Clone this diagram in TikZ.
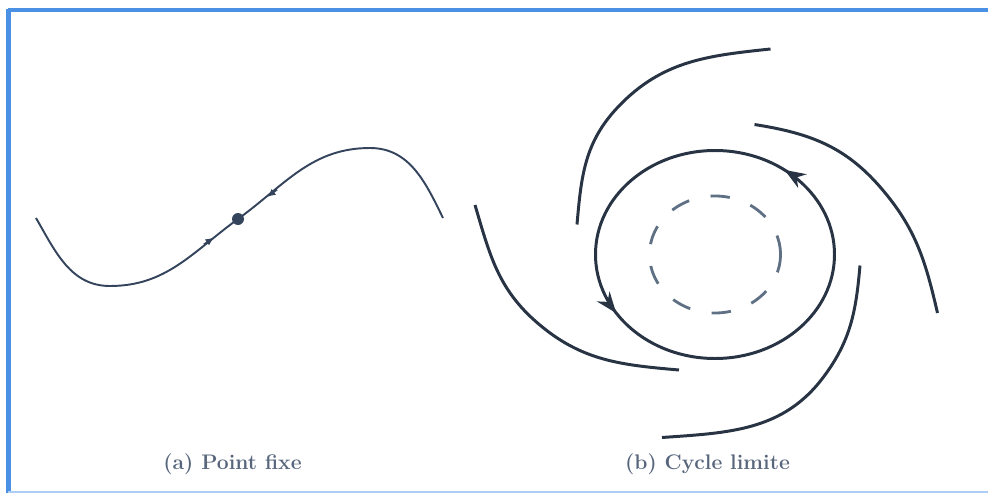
\documentclass[tikz,border=0pt]{standalone}
\usepackage{tikz}
\usetikzlibrary{arrows.meta,decorations.markings}

\definecolor{frameblue}{RGB}{74,144,228}
\definecolor{flowgray}{RGB}{52,68,92}
\definecolor{orbitgray}{RGB}{40,52,68}
\definecolor{dashgray}{RGB}{95,112,132}
\definecolor{labelgray}{RGB}{88,102,124}

\begin{document}
\begin{tikzpicture}[
  flow/.style={draw=flowgray, line width=1.1pt},
  orbit/.style={draw=orbitgray, line width=1.7pt},
  caption/.style={text=labelgray, font=\large\bfseries}
]
  \useasboundingbox (0,0) rectangle (19.76,9.86);

  % frame
  \draw[frameblue, line width=1.9pt] (19.9,9.66) -- (0.17,9.66);
  \draw[frameblue, line width=2.3pt] (0.17,9.69) -- (0.17,0);
  \draw[frameblue!45, line width=1.1pt] (0.17,0.02) -- (19.9,0.02);

  % (a) fixed point on a trajectory
  \coordinate (fix) at (4.76,5.48);
  \draw[flow] (0.72,5.50) to[out=-60,in=180] (2.20,4.14) to[out=0,in=216] (fix)
    to[out=36,in=180] (7.40,6.90) to[out=0,in=116] (8.86,5.50);
  \node[circle, fill=flowgray, inner sep=0pt, minimum size=0.24cm] (fixpt) at (fix) {};
  % arrows towards the fixed point
  \draw[flow, -{Latex[length=0.17cm,width=0.15cm]}] (4.08,4.97) -- (4.28,5.11);
  \draw[flow, -{Latex[length=0.17cm,width=0.15cm]}] (5.54,6.07) -- (5.34,5.92);

  % (b) limit cycle
  \coordinate (cyc) at (14.30,4.77);
  \draw[dashgray, line width=1.6pt, dash pattern=on 11pt off 12.5pt]
    (cyc) ellipse [x radius=1.31, y radius=1.17];
  \draw[orbit, postaction={decorate}, decoration={markings,
      mark=at position 0.146 with {\arrow{Stealth[length=0.42cm,width=0.32cm]}},
      mark=at position 0.59 with {\arrow{Stealth[length=0.42cm,width=0.32cm]}}}]
    (cyc) ellipse [x radius=2.39, y radius=2.08];

  % spiralling trajectories
  \draw[orbit] (11.54,5.37) to[out=85,in=226.5] (12.36,7.72)
    to[out=46.5,in=186] (15.41,8.88);
  \draw[orbit] (15.09,7.37) to[out=-9,in=130.7] (17.62,6.10)
    to[out=-49.3,in=103] (18.75,3.60);
  \draw[orbit] (17.20,4.55) to[out=265,in=53.2] (16.47,2.32)
    to[out=233.2,in=4] (13.24,1.11);
  \draw[orbit] (9.50,5.76) to[out=-73.5,in=139.3] (10.75,3.40)
    to[out=-40.7,in=175] (13.58,2.46);

  % captions
  \node[caption] (capa) at (4.65,0.58) {(a) Point fixe};
  \node[caption] (capb) at (14.15,0.58) {(b) Cycle limite};
\end{tikzpicture}
\end{document}
